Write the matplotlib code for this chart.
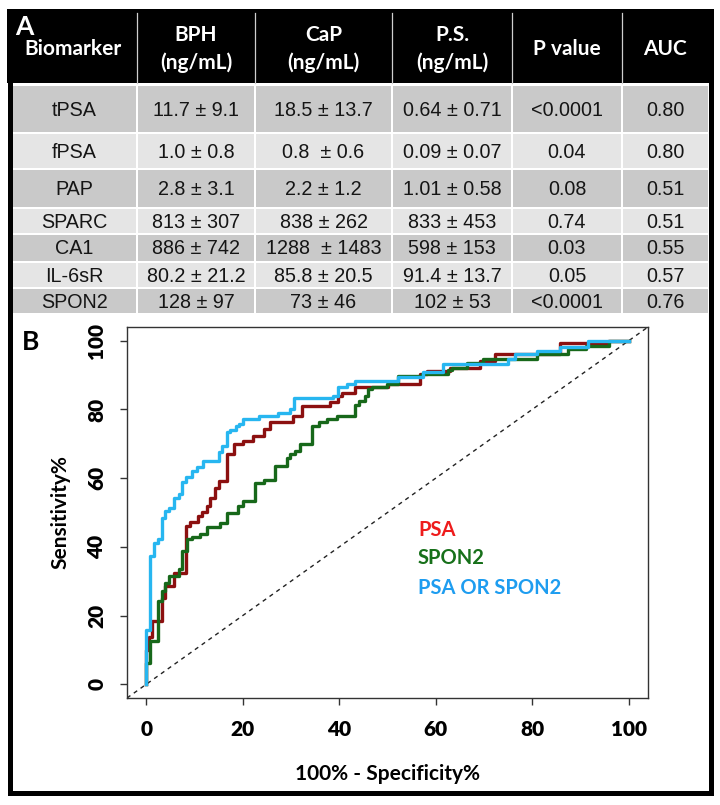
import matplotlib
matplotlib.use("Agg")
import matplotlib.pyplot as plt
from matplotlib.patches import Rectangle

# ---- panel A: table contents ----
header = ["Biomarker", "BPH\n(ng/mL)", "CaP\n(ng/mL)", "P.S.\n(ng/mL)", "P value", "AUC"]
biomarkers = ["tPSA", "fPSA", "PAP", "SPARC", "CA1", "IL-6sR", "SPON2"]
bph = ["11.7 ± 9.1", "1.0 ± 0.8", "2.8 ± 3.1", "813 ± 307", "886 ± 742", "80.2 ± 21.2", "128 ± 97"]
cap = ["18.5 ± 13.7", "0.8  ± 0.6", "2.2 ± 1.2", "838 ± 262", "1288  ± 1483", "85.8 ± 20.5", "73 ± 46"]
ps = ["0.64 ± 0.71", "0.09 ± 0.07", "1.01 ± 0.58", "833 ± 453", "598 ± 153", "91.4 ± 13.7", "102 ± 53"]
pvals = ["<0.0001", "0.04", "0.08", "0.74", "0.03", "0.05", "<0.0001"]
auc = ["0.80", "0.80", "0.51", "0.51", "0.55", "0.57", "0.76"]

# ---- panel B: ROC curves (100% - specificity, sensitivity), step points ----
psa_x = [0, 0, 0.48, 1.17, 3.24, 3.93, 5.66, 8.28, 9.1, 10.8, 11.5, 12.6, 13.3, 14.3, 15.0, 16.7, 18.1,
         20.0, 22.2, 24.3, 25.7, 30.5, 32.2, 38.1, 39.8, 40.5, 43.3, 50.2, 56.7, 58.1, 62.9, 69.2, 72.3,
         85.7, 95.7, 100]
psa_y = [0, 10, 13.9, 18.3, 25.2, 28.5, 32.5, 46.0, 47.2, 48.9, 50.1, 52.0, 54.3, 57.0, 59.1, 66.9, 69.8,
         70.8, 72.2, 74.2, 76.2, 78.1, 81.0, 82.2, 83.9, 84.9, 86.4, 87.4, 90.2, 91.2, 92.1, 94.1, 96.0,
         99.2, 100, 100]

spon2_x = [0, 0, 0.69, 2.35, 3.24, 3.93, 4.62, 6.69, 7.38, 8.42, 9.46, 11.2, 12.6, 15.3, 16.7, 19.1, 20.1,
           22.6, 24.3, 26.7, 29.1, 29.8, 30.8, 31.9, 34.3, 35.7, 37.4, 39.5, 43.3, 44.0, 45.3, 46.0, 46.7,
           49.8, 52.2, 57.1, 62.6, 63.3, 66.4, 69.8, 80.9, 87.4, 91.2, 95.9, 100]
spon2_y = [0, 6.3, 12.5, 24.1, 27.1, 29.5, 31.4, 33.6, 38.7, 42.3, 42.9, 43.6, 45.7, 46.8, 49.9, 52.0, 53.3,
           58.5, 59.6, 63.5, 65.9, 66.9, 67.9, 69.8, 75.2, 76.2, 77.1, 78.1, 81.2, 82.5, 83.9, 85.9, 86.6,
           87.4, 89.6, 90.2, 91.6, 92.1, 93.6, 94.6, 96.0, 97.5, 98.5, 100, 100]

both_x = [0, 0, 0.83, 1.66, 2.35, 3.24, 3.93, 4.62, 5.66, 6.69, 7.38, 8.28, 9.46, 10.5, 11.7, 15.0, 15.7,
          16.7, 17.4, 18.6, 19.3, 20.0, 23.3, 27.4, 29.8, 30.7, 38.8, 39.8, 41.6, 43.3, 52.2, 57.4, 61.6,
          75.0, 76.4, 80.9, 85.7, 91.6, 100]
both_y = [0, 15.9, 37.3, 41.2, 42.4, 48.3, 50.3, 51.4, 54.1, 55.3, 58.8, 60.2, 62.0, 63.1, 64.9, 67.5, 69.3,
          73.3, 73.9, 75.1, 75.7, 77.1, 78.0, 79.1, 80.0, 83.2, 83.8, 86.4, 87.4, 88.3, 89.3, 90.9, 93.1,
          94.6, 96.0, 97.0, 98.1, 100, 100]

curves = [("PSA", psa_x, psa_y, "#8c1010", "#ee1c1c"),
          ("SPON2", spon2_x, spon2_y, "#17681a", "#17701a"),
          ("PSA OR SPON2", both_x, both_y, "#27b6f0", "#1e9df0")]

W, H = 720, 805
fig = plt.figure(figsize=(W / 100, H / 100), dpi=100)


def fx(x):
    return x / W


def fy(y):
    return 1 - y / H


def box(x0, y0, x1, y1, color):
    fig.add_artist(Rectangle((fx(x0), fy(y1)), (x1 - x0) / W, (y1 - y0) / H,
                             transform=fig.transFigure, facecolor=color, edgecolor="none"))


# header band
box(7, 9, 713, 83, "black")
col_edges = [12, 137, 255, 392, 512, 622, 708]
for xe in col_edges[1:-1]:
    fig.add_artist(plt.Line2D([fx(xe), fx(xe)], [fy(13), fy(83)], transform=fig.transFigure,
                              color="#cfcfcf", lw=0.9))
hdr_font = dict(family="Lato", weight="bold", color="white", fontsize=15)
for i, h in enumerate(header):
    cx = (col_edges[i] + col_edges[i + 1]) / 2
    cy = 49
    if i == 0:
        cx = 73
    fig.text(fx(cx), fy(cy), h, ha="center", va="center", linespacing=1.4, **hdr_font)
fig.text(fx(15), fy(27), "A", ha="left", va="center", family="Lato", weight="bold",
         color="white", fontsize=19)

# body rows
row_edges = [(86, 132), (134, 168), (170, 207), (209, 233), (235, 261), (263, 287), (289, 313)]
dark, light = "#c9c9c9", "#e5e5e5"
columns = [biomarkers, bph, cap, ps, pvals, auc]
for r, (y0, y1) in enumerate(row_edges):
    fill = dark if r % 2 == 0 else light
    for c in range(6):
        x0 = col_edges[c] + (1 if c > 0 else 0)
        x1 = col_edges[c + 1] - (1 if c < 5 else 0)
        box(x0, y0, x1, y1, fill)
        fig.text(fx((col_edges[c] + col_edges[c + 1]) / 2), fy((y0 + y1) / 2 + 1), columns[c][r],
                 ha="center", va="center", family="Liberation Sans", fontsize=14.2, color="#151515")

# outer frame
fig.add_artist(Rectangle((fx(9.5), fy(793)), (710.5 - 9.5) / W, (793 - 11.5) / H,
                         transform=fig.transFigure, facecolor="none", edgecolor="black", lw=3.6))

# ---- panel B ----
ax = fig.add_axes([fx(127), fy(698), (648 - 127) / W, (698 - 327) / H])
ax.plot([-4, 104], [-4, 104], color="#222222", lw=1.0, dashes=(3, 3))
for name, xs, ys, lc, tc in curves:
    ax.step(xs, ys, where="post", color=lc, lw=2.4)
ax.set_xlim(-4, 104)
ax.set_ylim(-4, 104)
ticks = [0, 20, 40, 60, 80, 100]
ax.set_xticks(ticks)
ax.set_yticks(ticks)
ax.set_xticklabels([str(t) for t in ticks], family="Lato", weight="heavy", fontsize=15)
ax.set_yticklabels([str(t) for t in ticks], family="Lato", weight="heavy", fontsize=15,
                   rotation=90, va="center")
ax.tick_params(length=5, width=1, color="#333333", direction="out")
ax.tick_params(axis="x", pad=11)
ax.tick_params(axis="y", pad=10)
for s in ax.spines.values():
    s.set_color("#333333")
    s.set_linewidth(1.0)

leg_y = [45.0, 36.8, 28.0]
for (name, xs, ys, lc, tc), ly in zip(curves, leg_y):
    ax.text(56.3, ly, name, color=tc, family="Lato", weight="bold", fontsize=14.5,
            ha="left", va="center")

fig.text(fx(387.5), fy(774), "100% - Specificity%", ha="center", va="center",
         family="Lato", weight="bold", fontsize=15)
fig.text(fx(60), fy(512), "Sensitivity%", ha="center", va="center", rotation=90,
         family="Lato", weight="bold", fontsize=15)
fig.text(fx(22), fy(342), "B", ha="left", va="center", family="Lato", weight="bold", fontsize=19)

fig.savefig("out.png", dpi=100)
